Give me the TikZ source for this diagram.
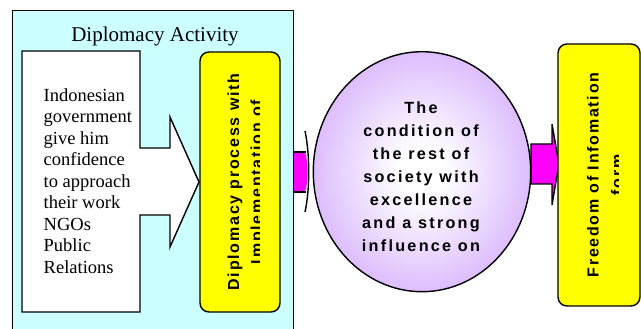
\documentclass[tikz,border=0pt]{standalone}
\usepackage{fontspec}
\setmainfont{Liberation Serif}
\newfontfamily\spb[LetterSpace=11]{Liberation Sans}
\newfontfamily\spc[LetterSpace=14]{Liberation Sans}
\usetikzlibrary{shapes.geometric}
\definecolor{cyanbg}{RGB}{204,255,255}
\definecolor{purp}{RGB}{200,150,252}
\definecolor{mag}{RGB}{255,0,255}
\definecolor{yel}{RGB}{255,255,0}
\pgfdeclareradialshading{ballshade}{\pgfpoint{0bp}{0bp}}{color(0bp)=(white); color(5bp)=(white); color(37bp)=(purp); color(50bp)=(purp)}
\begin{document}
\begin{tikzpicture}[x=1pt,y=-1pt,line width=1.4pt,
  ybox/.style={draw, fill=yel, rounded corners=9pt, inner sep=0pt},
  boldtxt/.style={font=\fontsize{16}{23}\selectfont\spb\bfseries},
  circtxt/.style={font=\fontsize{16.2}{23}\selectfont\spc\bfseries},
  vline/.style={boldtxt, rotate=90, anchor=base, inner sep=0pt},
  blockarrow/.style={draw, fill=mag, line join=miter}]
\useasboundingbox (0,0) rectangle (641,329);
% connector arrows (behind the shapes)
\fill[mag] (292,152) -- (305,152) .. controls (308.5,162) and (308.5,182) .. (305,192) -- (292,192) -- cycle;
\draw (292,152) -- (306,152) (292,192) -- (306,192);
\draw (305,131) .. controls (310,155) and (310,189) .. (305,212);
\draw[blockarrow] (531,144) -- (552,144) -- (552,124) -- (559,164) -- (552,205) -- (552,184) -- (531,184) -- cycle;
% activity panel
\node[draw, fill=cyanbg, minimum width=281, minimum height=330, anchor=north west, inner sep=0pt] (act) at (12,10) {};
\node[font=\fontsize{21}{24}\selectfont, anchor=base] (title) at (155,41.7) {Diplomacy Activity};
% white arrow box
\draw[fill=white] (22,51) -- (140,51) -- (140,148) -- (170,148) -- (170,117) -- (199,182) -- (170,247) -- (170,215) -- (140,215) -- (140,312) -- (22,312) -- cycle;
\node[align=left, anchor=north west, inner sep=0pt, font=\fontsize{18.5}{21.5}\selectfont] (src) at (43,87.6)
  {Indonesian\\government\\give him\\confidence\\to approach\\their work\\NGOs\\Public\\Relations};
% left yellow box
\node[ybox, minimum width=80, minimum height=260] (proc) at (240,182) {};
\node[vline] (proc1) at (239,182) {Diplomacy process with};
\begin{scope}
  \clip (200,52) rectangle (259,312);
  \node[vline] (proc2) at (262,182) {Implementation of};
\end{scope}
% circle
\node[draw, ellipse, shade, shading=ballshade, minimum width=217.4, minimum height=240, inner sep=0pt] (cond) at (422,171.7) {};
\node[circtxt, align=center, anchor=north, inner sep=0pt] (condtxt) at (421,101.3)
  {The\\condition of\\the rest of\\society with\\excellence\\and a strong\\influence on};
% right yellow box
\node[ybox, minimum width=82, minimum height=262] (free) at (599,175) {};
\node[vline] (free1) at (598.7,175) {Freedom of Infomation};
\begin{scope}
  \clip (558,44) rectangle (618,306);
  \node[vline] (free2) at (622.5,175) {form};
\end{scope}
\end{tikzpicture}
\end{document}
